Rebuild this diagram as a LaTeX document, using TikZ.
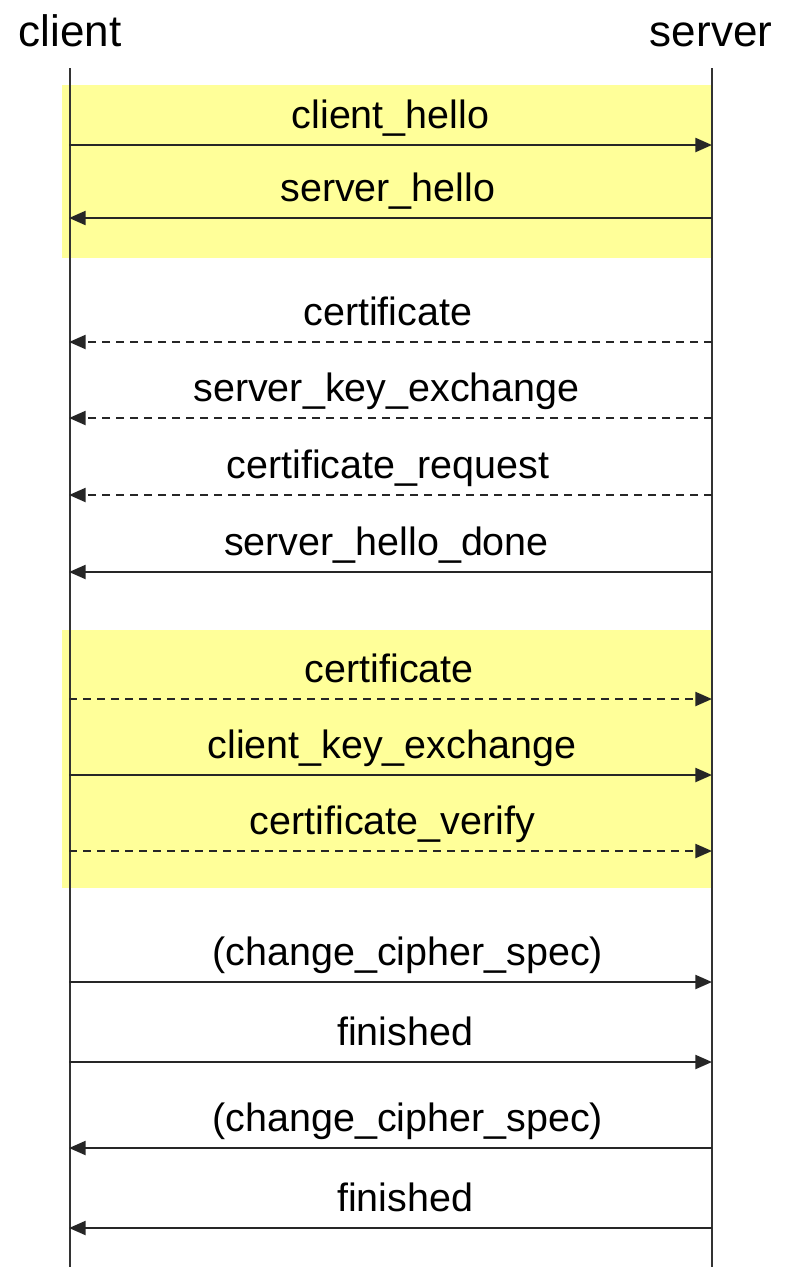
\documentclass[tikz,border=0pt]{standalone}
\usepackage{fontspec}
\setmainfont{Liberation Sans}
\usetikzlibrary{arrows.meta}

\definecolor{phaseyellow}{RGB}{255,255,153}

\tikzset{
  px/.style={x=0.75pt,y=-0.75pt},
  party/.style={font=\fontsize{33}{38}\selectfont, anchor=base, inner sep=0pt},
  lifeline/.style={line width=1.4pt, draw=black!80},
  phase/.style={fill=phaseyellow},
  msg/.style={line width=1.7pt, draw=black!85,
    -{Triangle[length=12.5pt,width=10.5pt]}},
  optmsg/.style={msg, dash pattern=on 6pt off 4.5pt},
  lbl/.style={font=\fontsize{29.6}{34}\selectfont, anchor=base, inner sep=0pt,
    yshift=12.75pt}
}

\begin{document}
\begin{tikzpicture}[px]
  \useasboundingbox (0,0) rectangle (794,1267);

  % highlighted phases of the handshake
  \fill[phase] (62,85) rectangle (713,258);
  \fill[phase] (62,630) rectangle (713,888);

  % the two parties and their lifelines
  \node[party] (client) at (70,46) {client};
  \node[party] (server) at (711,46) {server};
  \coordinate (ctop) at (70,68);
  \coordinate (cbot) at (70,1267);
  \coordinate (stop) at (712,68);
  \coordinate (sbot) at (712,1267);
  \draw[lifeline] (ctop) -- (cbot);
  \draw[lifeline] (stop) -- (sbot);

  % message end points on each lifeline
  \foreach \i/\y in {1/145,2/218,3/342,4/418,5/495,6/572,7/699,8/775,9/851,
                     10/982,11/1062,12/1148,13/1228} {
    \coordinate (c\i) at (69,\y);
    \coordinate (s\i) at (712,\y);
  }

  % hello phase
  \draw[msg] (c1) -- (s1) node[lbl, midway] {client\_hello};
  \draw[msg] (s2) -- (c2) node[lbl, midway, xshift=-2pt] {server\_hello};

  % server authentication and key exchange
  \draw[optmsg] (s3) -- (c3) node[lbl, midway, xshift=-2pt] {certificate};
  \draw[optmsg] (s4) -- (c4) node[lbl, midway, xshift=-3pt] {server\_key\_exchange};
  \draw[optmsg] (s5) -- (c5) node[lbl, midway, xshift=-2pt] {certificate\_request};
  \draw[msg] (s6) -- (c6) node[lbl, midway, xshift=-3pt] {server\_hello\_done};

  % client authentication and key exchange
  \draw[optmsg] (c7) -- (s7) node[lbl, midway, xshift=-1pt] {certificate};
  \draw[msg] (c8) -- (s8) node[lbl, midway, xshift=1pt] {client\_key\_exchange};
  \draw[optmsg] (c9) -- (s9) node[lbl, midway, xshift=1.5pt] {certificate\_verify};

  % finish
  \draw[msg] (c10) -- (s10) node[lbl, midway, xshift=13pt] {(change\_cipher\_spec)};
  \draw[msg] (c11) -- (s11) node[lbl, midway, xshift=11pt] {finished};
  \draw[msg] (s12) -- (c12) node[lbl, midway, xshift=13pt] {(change\_cipher\_spec)};
  \draw[msg] (s13) -- (c13) node[lbl, midway, xshift=11pt] {finished};
\end{tikzpicture}
\end{document}
